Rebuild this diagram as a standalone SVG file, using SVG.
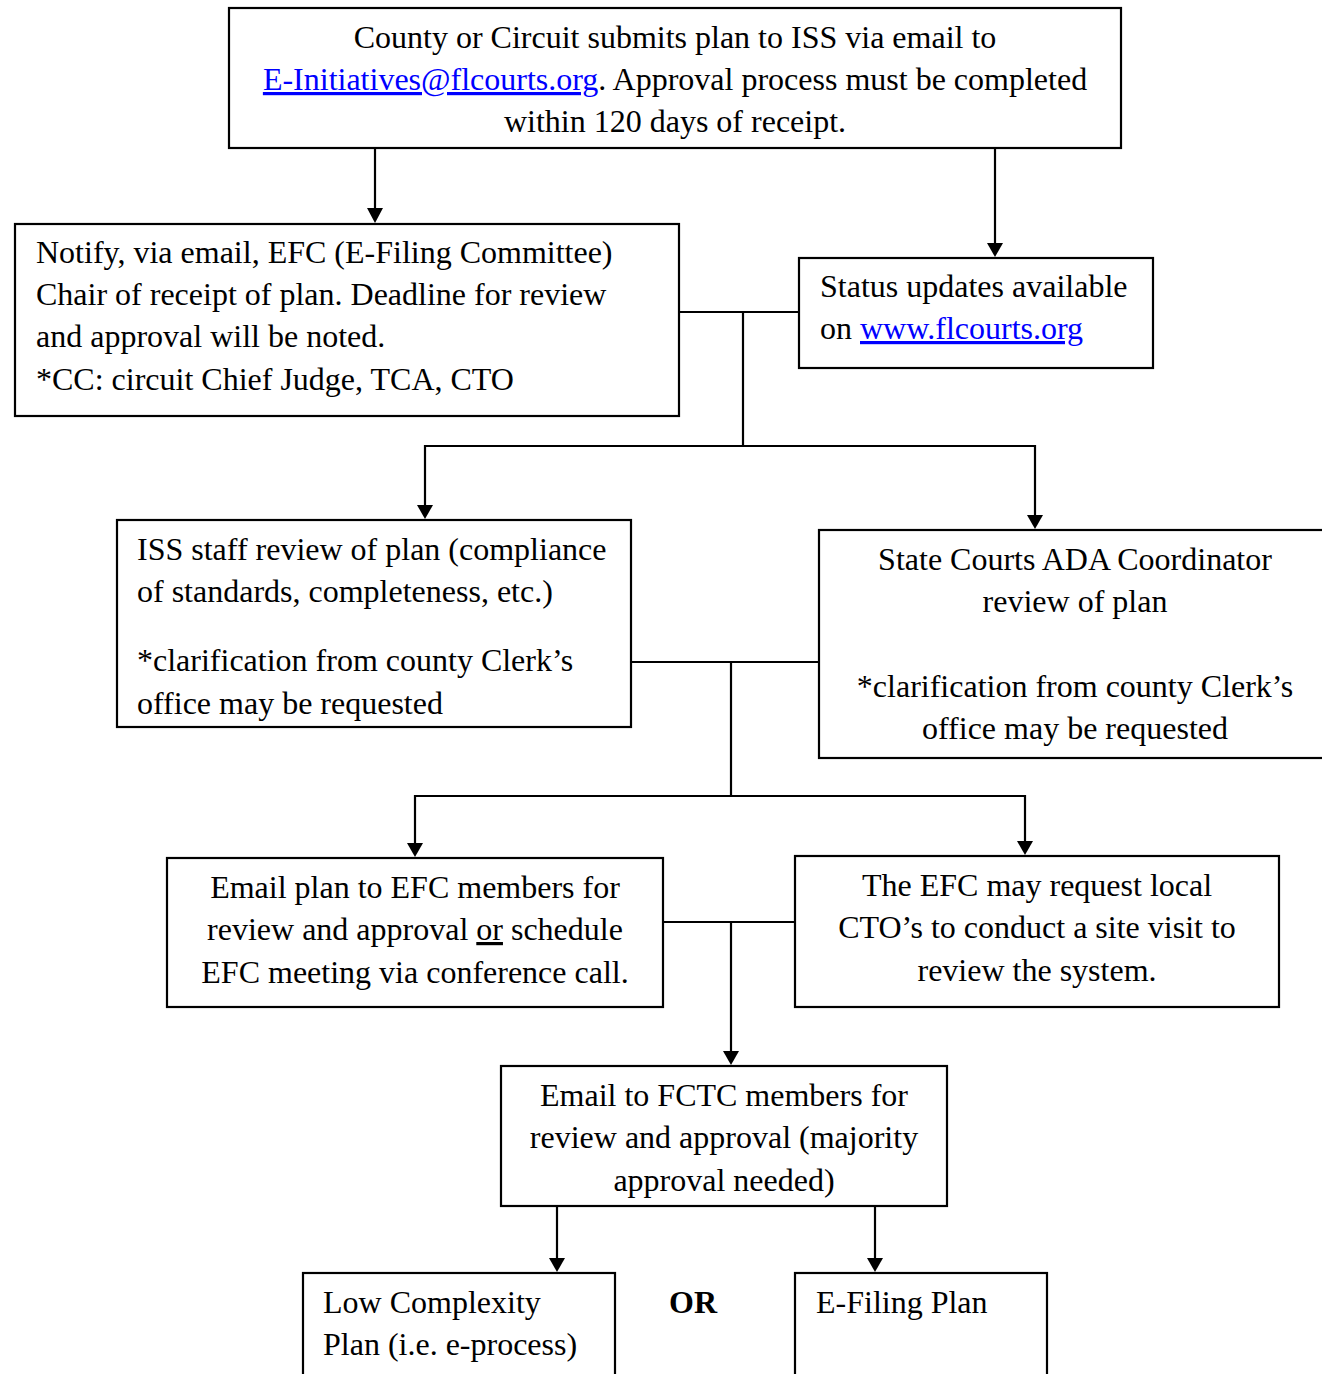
<svg xmlns="http://www.w3.org/2000/svg" width="1322" height="1374" viewBox="0 0 1322 1374">
<style>
.box{fill:#fff;stroke:#000;stroke-width:2.2}
.t{font-family:"Liberation Serif","Times New Roman",serif;font-size:32px;fill:#000}
.c{text-anchor:middle}
.link{fill:#0000ff;text-decoration:underline}
.u{text-decoration:underline}
.b{font-weight:bold}
.ln{fill:none;stroke:#000;stroke-width:2.2}
</style>
<rect width="1322" height="1374" fill="#fff"/>
<g id="connectors">
<line class="ln" x1="375" y1="148" x2="375" y2="210"/>
<path d="M367,208 L383,208 L375,223 Z"/>
<line class="ln" x1="995" y1="148" x2="995" y2="244"/>
<path d="M987,243 L1003,243 L995,257 Z"/>
<polyline class="ln" points="679,312 799,312"/>
<polyline class="ln" points="743,312 743,446"/>
<polyline class="ln" points="425,506 425,446 1035,446 1035,516"/>
<path d="M417,505 L433,505 L425,519 Z"/>
<path d="M1027,515 L1043,515 L1035,529 Z"/>
<polyline class="ln" points="631,662 819,662"/>
<polyline class="ln" points="731,662 731,796"/>
<polyline class="ln" points="415,844 415,796 1025,796 1025,842"/>
<path d="M407,843 L423,843 L415,857 Z"/>
<path d="M1017,841 L1033,841 L1025,855 Z"/>
<polyline class="ln" points="663,922 795,922"/>
<polyline class="ln" points="731,922 731,1052"/>
<path d="M723,1051 L739,1051 L731,1065 Z"/>
<line class="ln" x1="557" y1="1206" x2="557" y2="1259"/>
<path d="M549,1258 L565,1258 L557,1272 Z"/>
<line class="ln" x1="875" y1="1206" x2="875" y2="1259"/>
<path d="M867,1258 L883,1258 L875,1272 Z"/>
</g>
<g id="n-submit">
<rect class="box" x="229" y="8" width="892" height="140"/>
<text class="t c" x="675" y="48">County or Circuit submits plan to ISS via email to</text>
<text class="t c" x="675" y="90"><tspan class="link">E-Initiatives@flcourts.org</tspan>. Approval process must be completed</text>
<text class="t c" x="675" y="132">within 120 days of receipt.</text>
</g>
<g id="n-notify">
<rect class="box" x="15" y="224" width="664" height="192"/>
<text class="t" x="36" y="263">Notify, via email, EFC (E-Filing Committee)</text>
<text class="t" x="36" y="305">Chair of receipt of plan. Deadline for review</text>
<text class="t" x="36" y="347">and approval will be noted.</text>
<text class="t" x="36" y="390">*CC: circuit Chief Judge, TCA, CTO</text>
</g>
<g id="n-status">
<rect class="box" x="799" y="258" width="354" height="110"/>
<text class="t" x="820" y="297">Status updates available</text>
<text class="t" x="820" y="339">on <tspan class="link">www.flcourts.org</tspan></text>
</g>
<g id="n-iss">
<rect class="box" x="117" y="520" width="514" height="207"/>
<text class="t" x="137" y="560">ISS staff review of plan (compliance</text>
<text class="t" x="137" y="602">of standards, completeness, etc.)</text>
<text class="t" x="137" y="671">*clarification from county Clerk’s</text>
<text class="t" x="137" y="714">office may be requested</text>
</g>
<g id="n-ada">
<rect class="box" x="819" y="530" width="520" height="228"/>
<text class="t c" x="1075" y="570">State Courts ADA Coordinator</text>
<text class="t c" x="1075" y="612">review of plan</text>
<text class="t c" x="1075" y="697">*clarification from county Clerk’s</text>
<text class="t c" x="1075" y="739">office may be requested</text>
</g>
<g id="n-emailefc">
<rect class="box" x="167" y="858" width="496" height="149"/>
<text class="t c" x="415" y="898">Email plan to EFC members for</text>
<text class="t c" x="415" y="940">review and approval <tspan class="u">or</tspan> schedule</text>
<text class="t c" x="415" y="983">EFC meeting via conference call.</text>
</g>
<g id="n-site">
<rect class="box" x="795" y="856" width="484" height="151"/>
<text class="t c" x="1037" y="896">The EFC may request local</text>
<text class="t c" x="1037" y="938">CTO’s to conduct a site visit to</text>
<text class="t c" x="1037" y="981">review the system.</text>
</g>
<g id="n-fctc">
<rect class="box" x="501" y="1066" width="446" height="140"/>
<text class="t c" x="724" y="1106">Email to FCTC members for</text>
<text class="t c" x="724" y="1148">review and approval (majority</text>
<text class="t c" x="724" y="1191">approval needed)</text>
</g>
<g id="n-low">
<rect class="box" x="303" y="1273" width="312" height="120"/>
<text class="t" x="323" y="1313">Low Complexity</text>
<text class="t" x="323" y="1355">Plan (i.e. e-process)</text>
</g>
<g id="n-or">
<text class="t b" x="669" y="1313">OR</text>
</g>
<g id="n-efiling">
<rect class="box" x="795" y="1273" width="252" height="120"/>
<text class="t" x="816" y="1313">E-Filing Plan</text>
</g>
</svg>
